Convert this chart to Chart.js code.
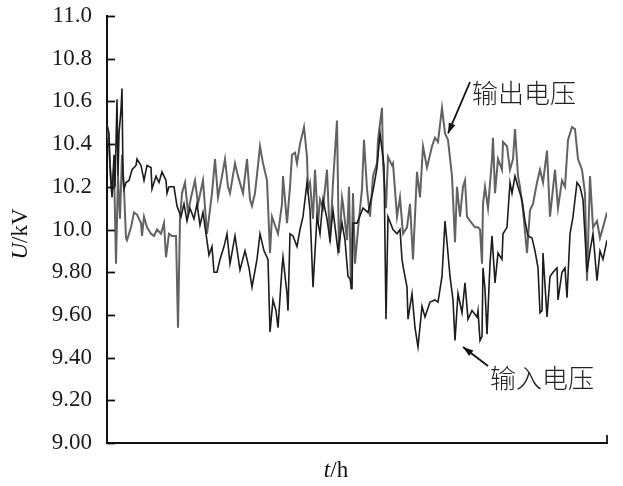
<!DOCTYPE html>
<html>
<head>
<meta charset="utf-8">
<script src="https://cdn.jsdelivr.net/npm/chart.js"></script>
<style>
  html, body { margin: 0; padding: 0; background: #fff; }
  #wrap { width: 623px; height: 486px; }
</style>
</head>
<body>
<div id="wrap"><canvas id="voltage_graph" width="623" height="486"></canvas></div>
<script>
// y tick labels as printed in the figure
const yTickLabels = ['9.00', '9.20', '9.40', '9.60', '9.80', '10.0', '10.2', '10.4', '10.6', '10.8', '11.0'];

// output voltage (grey trace), sample positions and kV values
const outT = [0, 2, 4, 5, 7, 9, 11, 13, 15, 17, 19, 20, 24, 27, 30, 34, 35, 37, 40, 44, 47, 50, 54, 57, 59, 62, 65, 69, 70, 71, 73, 75, 78, 81, 84, 88, 91, 96, 100, 105, 108, 111, 115, 118, 121, 123, 128, 131, 136, 140, 143, 145, 148, 151, 153, 156, 160, 163, 165, 168, 171, 175, 176, 180, 183, 185, 188, 190, 193, 197, 200, 201, 203, 206, 208, 211, 213, 216, 220, 223, 226, 230, 232, 235, 236, 240, 242, 244, 246, 248, 251, 255, 257, 260, 263, 266, 270, 271, 275, 276, 279, 281, 285, 286, 290, 293, 296, 300, 303, 306, 310, 313, 316, 320, 325, 328, 331, 335, 338, 341, 345, 348, 350, 353, 356, 358, 360, 363, 368, 371, 373, 375, 376, 378, 381, 385, 386, 388, 391, 395, 396, 400, 403, 406, 408, 411, 413, 416, 420, 423, 426, 430, 433, 436, 440, 443, 448, 451, 455, 458, 461, 465, 468, 471, 475, 478, 480, 483, 486, 490, 493, 496, 500];
const outV = [10.49, 10.39, 10.22, 10.17, 10.29, 9.84, 10.25, 10.05, 10.35, 10.19, 9.96, 9.95, 10.01, 10.08, 10.07, 10.03, 9.97, 10.06, 10.01, 9.98, 9.97, 10.00, 9.98, 10.03, 9.87, 9.98, 9.97, 9.97, 9.76, 9.54, 10.05, 10.17, 10.22, 10.08, 10.15, 10.23, 10.12, 10.23, 9.98, 10.17, 10.33, 10.15, 10.25, 10.33, 10.20, 10.17, 10.31, 10.25, 10.17, 10.33, 10.14, 10.11, 10.17, 10.30, 10.39, 10.31, 10.23, 9.89, 10.06, 10.02, 9.98, 10.12, 10.25, 10.03, 10.20, 10.35, 10.36, 10.31, 10.40, 10.48, 10.34, 10.19, 10.22, 10.05, 10.28, 10.03, 10.14, 10.10, 10.28, 9.94, 10.22, 10.51, 9.89, 10.15, 10.12, 9.95, 10.20, 9.72, 10.17, 9.84, 10.00, 10.19, 10.42, 10.19, 10.06, 10.25, 10.31, 10.42, 10.57, 10.31, 10.10, 10.34, 10.30, 10.31, 10.06, 10.15, 9.98, 10.01, 10.12, 9.86, 10.27, 10.15, 10.39, 10.29, 10.39, 10.43, 10.41, 10.57, 10.45, 10.42, 10.25, 9.94, 10.20, 10.06, 10.20, 10.23, 10.06, 10.04, 10.01, 10.01, 10.00, 9.84, 10.12, 10.20, 10.10, 10.33, 10.43, 10.17, 10.33, 10.28, 10.41, 10.39, 10.28, 10.33, 10.47, 10.25, 10.20, 10.09, 9.89, 10.09, 10.12, 10.22, 10.28, 10.22, 10.37, 10.06, 10.28, 10.10, 10.23, 10.20, 10.42, 10.48, 10.47, 10.33, 10.28, 10.17, 9.76, 10.25, 10.01, 10.04, 9.96, 10.01, 10.08];

// input voltage (black trace)
const inT = [0, 2, 3, 5, 7, 8, 10, 11, 12, 14, 15, 16, 17, 19, 22, 25, 29, 30, 34, 37, 40, 44, 45, 49, 52, 55, 59, 60, 62, 67, 70, 74, 77, 80, 83, 87, 90, 93, 96, 99, 102, 105, 107, 110, 113, 117, 120, 123, 128, 133, 138, 142, 145, 150, 153, 157, 161, 163, 166, 169, 171, 175, 176, 180, 181, 183, 186, 190, 193, 196, 200, 203, 206, 210, 213, 216, 220, 223, 226, 231, 235, 238, 241, 243, 245, 246, 250, 256, 261, 266, 270, 273, 277, 279, 281, 286, 290, 293, 295, 296, 300, 301, 305, 308, 311, 315, 318, 323, 328, 331, 335, 338, 340, 343, 346, 348, 351, 355, 358, 361, 365, 370, 371, 373, 375, 376, 378, 380, 383, 385, 388, 391, 395, 396, 400, 403, 405, 408, 411, 415, 418, 421, 425, 428, 431, 433, 435, 436, 440, 443, 446, 450, 451, 455, 458, 460, 463, 466, 470, 473, 476, 480, 483, 486, 490, 493, 496, 500];
const inV = [10.49, 10.45, 10.30, 10.15, 10.35, 10.20, 10.61, 10.25, 10.45, 10.56, 10.66, 10.25, 10.19, 10.22, 10.23, 10.28, 10.30, 10.33, 10.30, 10.23, 10.30, 10.29, 10.19, 10.25, 10.22, 10.27, 10.23, 10.17, 10.20, 10.20, 10.11, 10.06, 10.12, 10.04, 10.10, 10.05, 10.12, 10.02, 10.08, 9.98, 9.88, 9.92, 9.80, 9.80, 9.86, 9.92, 9.98, 9.84, 9.97, 9.81, 9.90, 9.82, 9.73, 9.86, 9.98, 9.90, 9.86, 9.52, 9.67, 9.62, 9.54, 9.82, 9.87, 9.70, 9.62, 9.98, 9.97, 9.92, 10.00, 10.06, 10.22, 10.09, 9.73, 10.06, 9.98, 10.14, 10.05, 9.95, 10.09, 9.90, 10.03, 9.95, 9.78, 9.77, 9.72, 10.03, 10.03, 10.10, 10.08, 10.18, 10.29, 10.45, 10.30, 9.58, 10.06, 10.00, 9.98, 10.00, 9.86, 9.83, 9.73, 9.58, 9.70, 9.54, 9.45, 9.64, 9.59, 9.66, 9.67, 9.66, 9.78, 10.04, 9.94, 9.78, 9.67, 9.48, 9.70, 9.61, 9.75, 9.58, 9.62, 9.59, 9.62, 9.48, 9.50, 9.82, 9.72, 9.51, 9.84, 9.97, 9.75, 9.89, 9.86, 9.98, 10.01, 10.22, 10.17, 10.25, 10.20, 10.14, 10.04, 9.97, 9.96, 9.90, 9.82, 9.61, 9.62, 9.89, 9.59, 9.78, 9.80, 9.82, 9.67, 9.80, 9.82, 9.68, 9.98, 10.06, 10.22, 10.20, 10.14, 9.80, 9.90, 9.98, 9.76, 9.90, 9.86, 9.95];

const serif = '"Liberation Serif", "DejaVu Serif", serif';
const cjk = '"Noto Sans CJK SC", sans-serif';

function toPoints(ts, vs) {
    return ts.map((t, i) => ({x: t, y: vs[i]}));
}

// draws text made of [string, italic] pieces one after another
function drawPieces(ctx, pieces, size, x, y) {
    let total = 0;
    pieces.forEach(p => {
        ctx.font = (p[1] ? 'italic ' : '') + size + 'px ' + serif;
        total += ctx.measureText(p[0]).width;
    });
    let cx = x - total / 2;
    pieces.forEach(p => {
        ctx.font = (p[1] ? 'italic ' : '') + size + 'px ' + serif;
        ctx.fillText(p[0], cx, y);
        cx += ctx.measureText(p[0]).width;
    });
}

function arrow(ctx, x1, y1, x2, y2) {
    ctx.beginPath();
    ctx.moveTo(x1, y1);
    ctx.lineTo(x2, y2);
    ctx.stroke();
    const a = Math.atan2(y2 - y1, x2 - x1);
    const len = 11;
    ctx.beginPath();
    ctx.moveTo(x2, y2);
    ctx.lineTo(x2 - len * Math.cos(a - 0.33), y2 - len * Math.sin(a - 0.33));
    ctx.lineTo(x2 - len * Math.cos(a + 0.33), y2 - len * Math.sin(a + 0.33));
    ctx.closePath();
    ctx.fill();
}

const decorations = {
    id: 'decorations',
    afterDraw(chart) {
        const ctx = chart.ctx;
        const xs = chart.scales.x;
        const ys = chart.scales.y;
        const left = xs.left, bottom = ys.bottom;
        ctx.save();
        ctx.strokeStyle = '#111';
        ctx.fillStyle = '#111';
        ctx.lineWidth = 1.8;
        // inward ticks on the y axis
        ys.ticks.forEach(t => {
            const py = Math.round(ys.getPixelForValue(t.value)) + 0.5;
            ctx.beginPath();
            ctx.moveTo(left, py);
            ctx.lineTo(left + 8, py);
            ctx.stroke();
        });
        // small end tick on the x axis
        ctx.beginPath();
        ctx.moveTo(xs.right, bottom);
        ctx.lineTo(xs.right, bottom - 8);
        ctx.stroke();

        // axis titles
        ctx.textBaseline = 'alphabetic';
        drawPieces(ctx, [['t', true], ['/h', false]], 23, 336, 477);
        ctx.save();
        ctx.translate(27, 234);
        ctx.rotate(-Math.PI / 2);
        drawPieces(ctx, [['U', true], ['/kV', false]], 23, 0, 0);
        ctx.restore();

        // series labels with arrows
        ctx.font = '300 26px ' + cjk;
        ctx.fillStyle = '#222';
        ctx.textBaseline = 'middle';
        ctx.textAlign = 'left';
        ctx.fillText('输出电压', 472, 93);
        ctx.fillText('输入电压', 490, 378);
        ctx.fillStyle = '#111';
        ctx.lineWidth = 1.8;
        arrow(ctx, 470, 82, xs.getPixelForValue(341), ys.getPixelForValue(10.45));
        arrow(ctx, 488, 366, xs.getPixelForValue(356), ys.getPixelForValue(9.45));
        ctx.restore();
    }
};

let graph = document.querySelector('#voltage_graph').getContext('2d');

new Chart(graph, {
    type: 'line',
    data: {
        datasets: [
            {
                label: '输入电压',
                data: toPoints(inT, inV),
                borderColor: '#1c1c1c',
                borderWidth: 1.6,
                pointRadius: 0,
                tension: 0
            },
            {
                label: '输出电压',
                data: toPoints(outT, outV),
                borderColor: '#626262',
                borderWidth: 2,
                pointRadius: 0,
                tension: 0
            }
        ]
    },
    options: {
        responsive: false,
        animation: false,
        events: [],
        layout: {
            padding: {left: 0, right: 16, top: 16, bottom: 0}
        },
        scales: {
            x: {
                type: 'linear',
                min: 0,
                max: 500,
                grid: {display: false, drawTicks: false},
                ticks: {display: false},
                border: {display: true, color: '#111', width: 2},
                afterFit: s => { s.height = 43; }
            },
            y: {
                min: 9,
                max: 11,
                grid: {display: false, drawTicks: false},
                border: {display: true, color: '#111', width: 2},
                ticks: {
                    stepSize: 0.2,
                    padding: 15,
                    color: '#1a1a1a',
                    font: {family: serif, size: 23},
                    callback: (v, i) => yTickLabels[i]
                },
                afterFit: s => {
                    s.width = 107;
                    s.paddingTop = 0;
                    s.paddingBottom = 0;
                }
            }
        },
        plugins: {
            legend: {display: false},
            tooltip: {enabled: false}
        }
    },
    plugins: [decorations]
});
</script>
</body>
</html>
